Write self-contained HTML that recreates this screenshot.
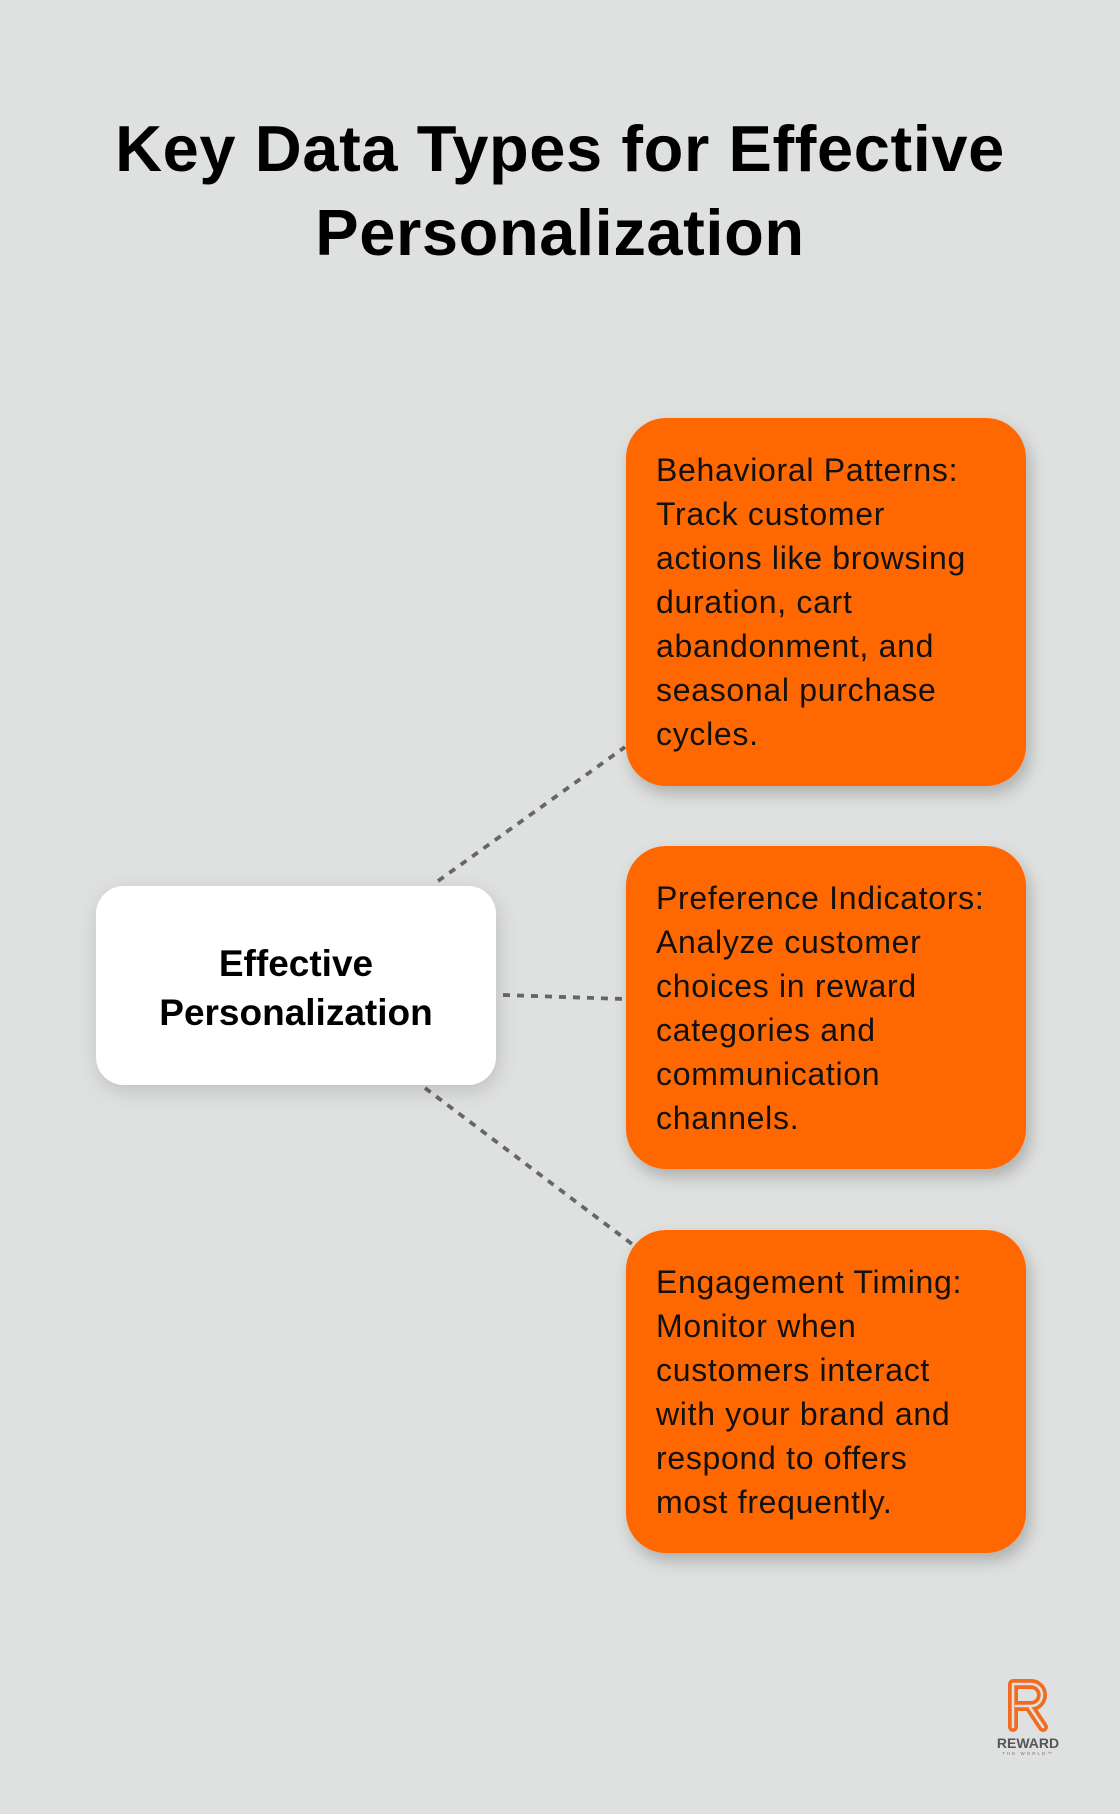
<!DOCTYPE html>
<html>
<head>
<meta charset="utf-8">
<style>
  html,body{margin:0;padding:0;background:#dfe1e0;}
  svg{display:block;}
</style>
</head>
<body>
<svg width="1120" height="1814" viewBox="0 0 1120 1814" xmlns="http://www.w3.org/2000/svg">
  <defs>
    <filter id="sh" x="-20%" y="-20%" width="150%" height="150%">
      <feDropShadow dx="4" dy="8" stdDeviation="8" flood-color="#000" flood-opacity="0.22"/>
    </filter>
    <filter id="shw" x="-20%" y="-20%" width="150%" height="150%">
      <feDropShadow dx="2" dy="6" stdDeviation="10" flood-color="#000" flood-opacity="0.15"/>
    </filter>
  </defs>
  <rect width="1120" height="1814" fill="#dfe1e0"/>

  <!-- Title -->
  <g font-family="'Liberation Sans', sans-serif" font-weight="bold" font-size="65" fill="#000" text-anchor="middle" letter-spacing="0.6">
    <text x="560" y="171">Key Data Types for Effective</text>
    <text x="560" y="255">Personalization</text>
  </g>

  <!-- Connectors -->
  <g stroke="#666" stroke-width="3.8" stroke-dasharray="7 7" fill="none">
    <line x1="438" y1="881" x2="625" y2="747"/>
    <line x1="503" y1="995" x2="624" y2="999"/>
    <line x1="425" y1="1088" x2="632" y2="1244"/>
  </g>

  <!-- Central white box -->
  <rect x="96" y="886" width="400" height="199" rx="28" ry="28" fill="#ffffff" filter="url(#shw)"/>
  <g font-family="'Liberation Sans', sans-serif" font-weight="bold" font-size="37" fill="#000" text-anchor="middle">
    <text x="296" y="976">Effective</text>
    <text x="296" y="1025">Personalization</text>
  </g>

  <!-- Orange boxes -->
  <g fill="#ff6700" filter="url(#sh)">
    <rect x="626" y="418" width="400" height="368" rx="40" ry="40"/>
    <rect x="626" y="846" width="400" height="323" rx="40" ry="40"/>
    <rect x="626" y="1230" width="400" height="323" rx="40" ry="40"/>
  </g>

  <g font-family="'Liberation Sans', sans-serif" font-size="32" fill="#111" letter-spacing="0.7">
    <text x="656" y="481">Behavioral Patterns:</text>
    <text x="656" y="525">Track customer</text>
    <text x="656" y="569">actions like browsing</text>
    <text x="656" y="613">duration, cart</text>
    <text x="656" y="657">abandonment, and</text>
    <text x="656" y="701">seasonal purchase</text>
    <text x="656" y="745">cycles.</text>

    <text x="656" y="909">Preference Indicators:</text>
    <text x="656" y="953">Analyze customer</text>
    <text x="656" y="997">choices in reward</text>
    <text x="656" y="1041">categories and</text>
    <text x="656" y="1085">communication</text>
    <text x="656" y="1129">channels.</text>

    <text x="656" y="1293">Engagement Timing:</text>
    <text x="656" y="1337">Monitor when</text>
    <text x="656" y="1381">customers interact</text>
    <text x="656" y="1425">with your brand and</text>
    <text x="656" y="1469">respond to offers</text>
    <text x="656" y="1513">most frequently.</text>
  </g>

  <!-- Logo -->
  <g fill="none" stroke-linecap="round" stroke-linejoin="round">
    <path d="M1013 1727 V1684 H1031 A11 11 0 0 1 1031 1706 H1016 M1029 1706 L1043 1727" stroke="#f26b21" stroke-width="10"/>
    <path d="M1013 1727 V1684 H1031 A11 11 0 0 1 1031 1706 H1016 M1029 1706 L1043 1727" stroke="#dfe1e0" stroke-width="2.6"/>
  </g>
  <text x="1028" y="1748" font-family="'Liberation Sans', sans-serif" font-weight="bold" font-size="14" fill="#555" text-anchor="middle">REWARD</text>
  <text x="1028" y="1755" font-family="'Liberation Sans', sans-serif" font-size="4.5" fill="#777" text-anchor="middle" letter-spacing="2">THE WORLD™</text>
</svg>
</body>
</html>
